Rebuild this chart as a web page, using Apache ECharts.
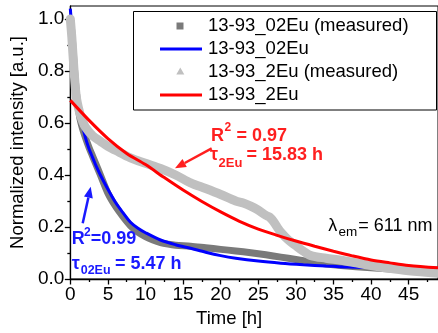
<!DOCTYPE html>
<html><head><meta charset="utf-8">
<script src="https://cdn.jsdelivr.net/npm/echarts@6/dist/echarts.min.js"></script>
<style>html,body{margin:0;padding:0;background:#fff}#c{width:438px;height:333px}</style>
</head><body><div id="c"></div>
<script>
// ---- data ----
const tMeas02 = [0, 0.2, 0.5, 0.8, 1.2, 1.6, 2, 2.5, 3, 3.5, 4, 5, 6, 7, 8, 9, 10, 11, 12, 13, 14, 16, 18, 20, 22, 24, 26, 28, 30, 32, 34, 36, 40, 44, 48.9];
const vMeas02 = [1.0, 0.95, 0.83, 0.72, 0.63, 0.58, 0.545, 0.505, 0.47, 0.435, 0.40, 0.33, 0.28, 0.24, 0.205, 0.18, 0.163, 0.15, 0.14, 0.134, 0.13, 0.126, 0.12, 0.114, 0.108, 0.101, 0.093, 0.084, 0.075, 0.066, 0.058, 0.052, 0.043, 0.036, 0.030];

const tFit02 = [0, 0.25, 0.5, 0.75, 1, 1.5, 2, 2.5, 3, 3.5, 4, 5, 6, 7, 8, 9, 10, 12, 14, 16, 18, 20, 22, 25, 28, 31, 34, 37, 40, 44, 48.9];
const vFit02 = [1.04, 0.95, 0.87, 0.79, 0.72, 0.61, 0.545, 0.50, 0.465, 0.43, 0.40, 0.345, 0.295, 0.255, 0.218, 0.195, 0.178, 0.15, 0.132, 0.118, 0.103, 0.09, 0.08, 0.069, 0.061, 0.055, 0.05, 0.046, 0.044, 0.042, 0.041];

const tMeas2 = [0, 0.2, 0.5, 0.8, 1.2, 1.6, 2, 3, 4, 5, 6, 8, 10, 12, 14, 16, 18, 20, 22, 23, 24, 25, 26, 26.5, 27, 27.5, 28, 29, 30, 31, 32, 34, 36, 38, 40, 42, 45, 48.9];
const vMeas2 = [1.0, 0.93, 0.80, 0.70, 0.645, 0.61, 0.585, 0.55, 0.53, 0.51, 0.495, 0.466, 0.445, 0.425, 0.40, 0.37, 0.348, 0.325, 0.30, 0.292, 0.28, 0.265, 0.245, 0.238, 0.222, 0.20, 0.18, 0.15, 0.128, 0.107, 0.09, 0.08, 0.072, 0.062, 0.052, 0.043, 0.032, 0.022];

const tFit2 = [0, 2.5, 5, 7.5, 10, 12.5, 15, 17.5, 20, 22.5, 25, 27.5, 30, 32.5, 35, 37.5, 40, 42.5, 45, 48.9];
const vFit2 = [0.687, 0.61, 0.54, 0.483, 0.44, 0.39, 0.342, 0.298, 0.258, 0.222, 0.192, 0.168, 0.146, 0.126, 0.107, 0.089, 0.073, 0.062, 0.052, 0.043];

const seriesNames = ['13-93_02Eu (measured)', '13-93_02Eu', '13-93_2Eu (measured)', '13-93_2Eu'];
const xMajorTicks = [0, 5, 10, 15, 20, 25, 30, 35, 40, 45];
const xMinorTicks = [2.5, 7.5, 12.5, 17.5, 22.5, 27.5, 32.5, 37.5, 42.5, 47.5];
const yMajorTicks = [0, 0.2, 0.4, 0.6, 0.8, 1.0];
const yMinorTicks = [0.1, 0.3, 0.5, 0.7, 0.9];

// ---- chart ----
const FF = '"Liberation Sans", Arial, sans-serif';
const zip = (t, v) => t.map((x, i) => [x, v[i]]);
const chart = echarts.init(document.getElementById('c'), null, {renderer: 'canvas'});

const axisLineStyle = {color: '#000', width: 1.3};
function txt(x, y, text, size, color, weight) {
  return {type: 'text', x: x, y: y, z: 100,
    style: {text: text, fill: color, font: (weight || 'normal') + ' ' + size + 'px ' + FF, align: 'left', verticalAlign: 'middle'}};
}
const RED = '#ff1f1f', BLUE = '#1a1aff';
const graphics = [
  // legend box
  {type: 'rect', shape: {x: 133.5, y: 11.5, width: 303, height: 98.5}, style: {fill: '#fff', stroke: '#000', lineWidth: 1}, z: 90},
  {type: 'rect', shape: {x: 176.5, y: 22.5, width: 7, height: 7}, style: {fill: '#7a7a7a'}, z: 91},
  {type: 'line', shape: {x1: 160, y1: 49, x2: 202, y2: 49}, style: {stroke: '#0000ff', lineWidth: 3}, z: 91},
  {type: 'polygon', shape: {points: [[180.3, 67.5], [184.3, 74.5], [176.3, 74.5]]}, style: {fill: '#c0c0c0'}, z: 91},
  {type: 'line', shape: {x1: 160, y1: 95, x2: 202, y2: 95}, style: {stroke: '#ff0000', lineWidth: 3}, z: 91},
  txt(208, 26, seriesNames[0], 18.5, '#000'),
  txt(208, 49, seriesNames[1], 18.5, '#000'),
  txt(208, 72, seriesNames[2], 18.5, '#000'),
  txt(208, 95, seriesNames[3], 18.5, '#000'),
  // red annotation
  txt(211, 136, 'R', 18, RED, 'bold'),
  txt(224.5, 128, '2', 12, RED, 'bold'),
  txt(236.5, 136, '= 0.97', 18, RED, 'bold'),
  txt(210, 155.5, 'τ', 18, RED, 'bold'),
  txt(218.5, 163.2, '2Eu', 13, RED, 'bold'),
  txt(246.5, 155.5, '= 15.83 h', 18, RED, 'bold'),
  {type: 'line', shape: {x1: 211.7, y1: 148.3, x2: 184.7, y2: 163.0}, style: {stroke: RED, lineWidth: 2.5}, z: 100},
  {type: 'polygon', shape: {points: [[175, 168.3], [186.8, 167.0], [182.5, 159.1]]}, style: {fill: RED}, z: 100},
  // blue annotation
  txt(71.7, 238.8, 'R', 18, BLUE, 'bold'),
  txt(84, 232.5, '2', 12, BLUE, 'bold'),
  txt(90.7, 238.8, '=0.99', 18, BLUE, 'bold'),
  txt(71.7, 263.8, 'τ', 18, BLUE, 'bold'),
  txt(80.7, 270.7, '02Eu', 12.5, BLUE, 'bold'),
  txt(115, 263.8, '= 5.47 h', 18, BLUE, 'bold'),
  {type: 'line', shape: {x1: 82.7, y1: 223.3, x2: 88.4, y2: 197.4}, style: {stroke: BLUE, lineWidth: 2.5}, z: 100},
  {type: 'polygon', shape: {points: [[90.7, 186.7], [92.8, 198.4], [84.0, 196.4]]}, style: {fill: BLUE}, z: 100},
  // lambda
  txt(328.3, 226.1, 'λ', 18, '#000'),
  txt(338.5, 232, 'em', 13.5, '#000'),
  txt(358.3, 226.1, '= 611 nm', 18, '#000')
];

const option = {
  animation: false,
  backgroundColor: '#fff',
  grid: {left: 67, top: 6, right: -1, bottom: 50, show: true, borderColor: '#000', borderWidth: 1, backgroundColor: 'transparent'},
  xAxis: [{
    type: 'value', min: 0, max: 48.9, position: 'bottom',
    axisLine: {show: true, onZero: false, lineStyle: axisLineStyle},
    axisTick: {show: true, customValues: xMajorTicks, length: 5.5, lineStyle: axisLineStyle},
    axisLabel: {customValues: xMajorTicks, margin: 6, fontSize: 19, color: '#000', fontFamily: FF},
    splitLine: {show: false},
    name: 'Time [h]', nameLocation: 'middle', nameGap: 30,
    nameTextStyle: {fontSize: 18.5, color: '#000', fontFamily: FF, padding: [0, 50, 0, 0]}
  }, {
    type: 'value', min: 0, max: 48.9, position: 'bottom',
    axisLine: {show: false, onZero: false},
    axisTick: {show: true, customValues: xMinorTicks, length: 3, lineStyle: axisLineStyle},
    axisLabel: {show: false}, splitLine: {show: false}
  }],
  yAxis: [{
    type: 'value', min: 0, max: 1.05, position: 'left',
    axisLine: {show: true, onZero: false, lineStyle: axisLineStyle},
    axisTick: {show: true, customValues: yMajorTicks, length: 5.5, lineStyle: axisLineStyle},
    axisLabel: {customValues: yMajorTicks, margin: 6, fontSize: 19, color: '#000', fontFamily: FF, formatter: v => v.toFixed(1)},
    splitLine: {show: false},
    name: 'Normalized intensity [a.u.]', nameLocation: 'middle', nameGap: 39,
    nameTextStyle: {fontSize: 18.5, color: '#000', fontFamily: FF}
  }, {
    type: 'value', min: 0, max: 1.05, position: 'left',
    axisLine: {show: false, onZero: false},
    axisTick: {show: true, customValues: yMinorTicks, length: 3, lineStyle: axisLineStyle},
    axisLabel: {show: false}, splitLine: {show: false}
  }],
  series: [
    {name: seriesNames[0], type: 'line', data: zip(tMeas02, vMeas02), symbol: 'none', smooth: 0.3, z: 1,
      lineStyle: {color: '#7a7a7a', width: 7, join: 'round', cap: 'round'}},
    {name: seriesNames[1], type: 'line', data: zip(tFit02, vFit02), symbol: 'none', smooth: 0.3, z: 2,
      lineStyle: {color: '#0000ff', width: 3}},
    {name: seriesNames[2], type: 'line', data: zip(tMeas2, vMeas2), symbol: 'none', smooth: 0.3, z: 3,
      lineStyle: {color: '#c0c0c0', width: 9, join: 'round', cap: 'round'}},
    {name: seriesNames[3], type: 'line', data: zip(tFit2, vFit2), symbol: 'none', smooth: 0.3, z: 4,
      lineStyle: {color: '#ff0000', width: 3}}
  ],
  graphic: graphics
};
chart.setOption(option);
</script></body></html>
